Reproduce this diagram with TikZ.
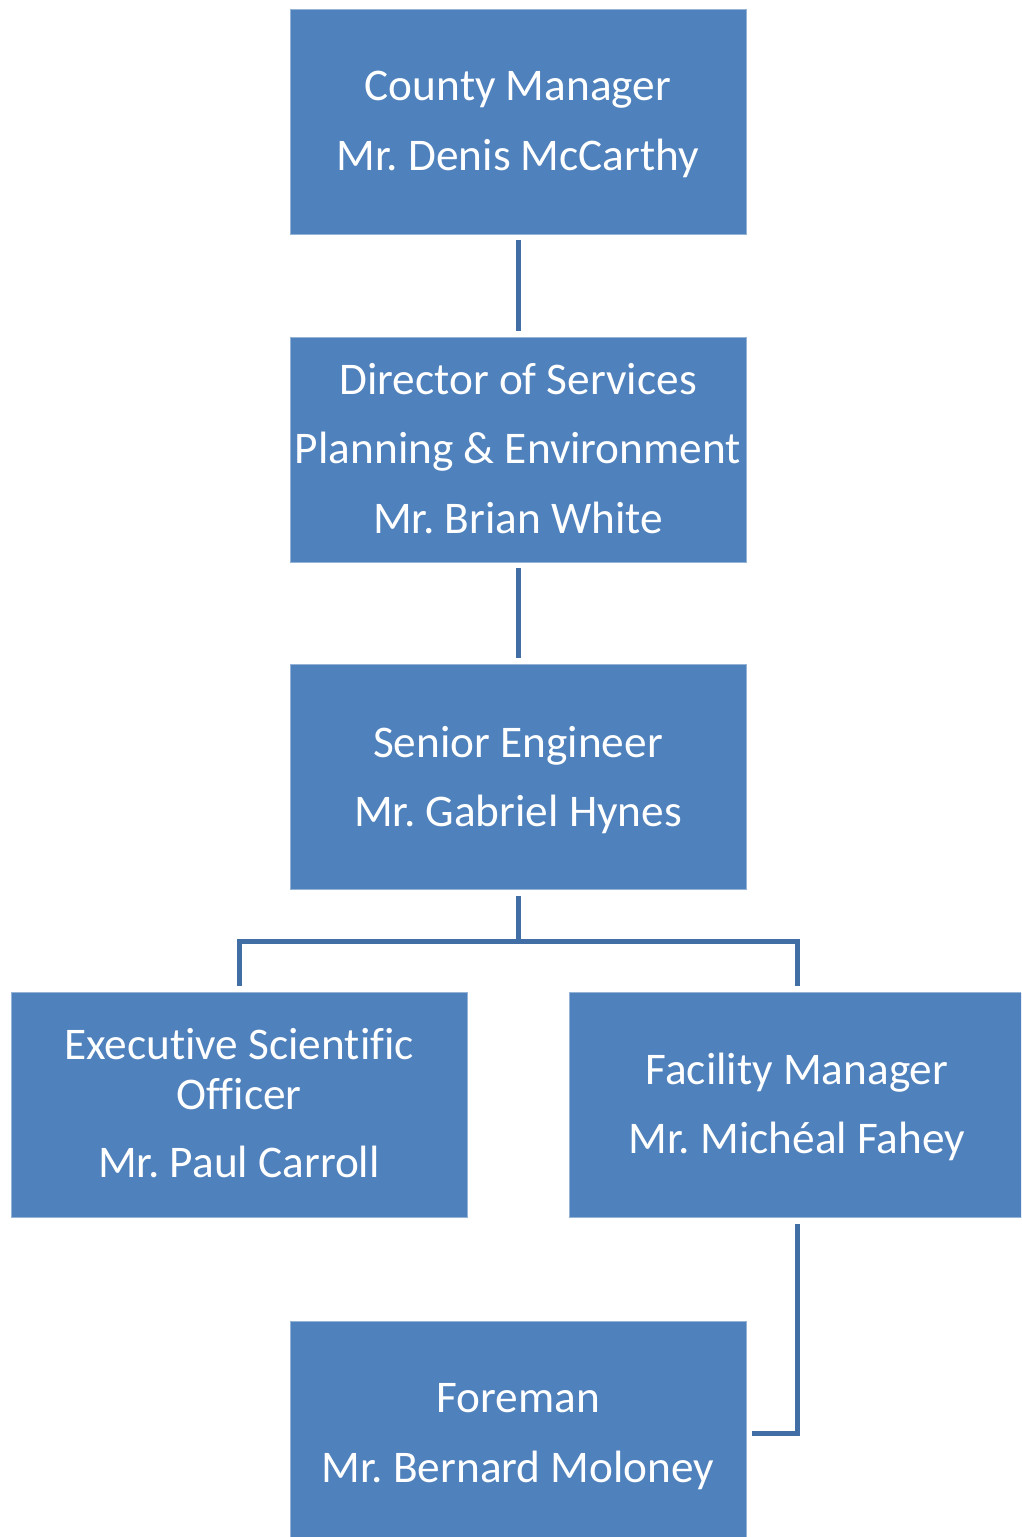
\documentclass[tikz,border=0pt]{standalone}
\usepackage{fontspec}
\setmainfont{Carlito}[Ligatures=NoCommon]
\frenchspacing
\definecolor{boxblue}{HTML}{4F81BD}
\definecolor{connblue}{RGB}{65,110,165}
\begin{document}
\begin{tikzpicture}[x=1pt,y=-1pt,
  orgbox/.style={rectangle, fill=boxblue, draw=boxblue!60!white, line width=0.8pt,
    minimum width=456pt, minimum height=225pt, inner sep=0pt},
  orgtext/.style={text=white, align=center, inner sep=0pt,
    font=\fontsize{45.3}{50}\selectfont},
  conn/.style={draw=connblue, line width=5pt, line join=miter}]
\useasboundingbox (0,0) rectangle (1021,1537);
\clip (0,0) rectangle (1021,1537);
\fill[white] (0,0) rectangle (1021,1537);
\node[orgbox] (A) at (518,121.5) {};
\node[orgbox] (B) at (518,449.5) {};
\node[orgbox] (C) at (518,777) {};
\node[orgbox] (D) at (239,1105) {};
\node[orgbox] (E) at (797,1105) {};
\node[orgbox] (F) at (518,1433.5) {};
\node[orgtext] (At) at ([yshift=-3pt]A.center) {County Manager\\[19.5pt]Mr. Denis McCarthy};
\node[orgtext] (Bt) at ([yshift=1pt]B.center) {Director of Services\\[19.5pt]Planning \& Environment\\[19.5pt]Mr. Brian White};
\node[orgtext] (Ct) at ([yshift=-3pt]C.center) {Senior Engineer\\[19.5pt]Mr. Gabriel Hynes};
\node[orgtext] (Dt) at ([yshift=2pt]D.center) {Executive Scientific\\Officer\\[18pt]Mr. Paul Carroll};
\node[orgtext] (Et) at ([yshift=-2pt]E.center) {Facility Manager\\[19.5pt]Mr. Mich\'eal Fahey};
\node[orgtext] (Ft) at ([yshift=-3pt]F.center) {Foreman\\[19.5pt]Mr. Bernard Moloney};
\coordinate (bus) at (518,941);
\draw[conn] ([yshift=-6pt]A.south) -- ([yshift=6pt]B.north);
\draw[conn] ([yshift=-6pt]B.south) -- ([yshift=6pt]C.north);
\draw[conn] ([yshift=-6pt]C.south) -- (C.south |- bus);
\draw[conn] ([yshift=6pt]D.north) -- (D.north |- bus) -- (E.north |- bus) -- ([yshift=6pt]E.north);
\draw[conn] ([yshift=-6pt]E.south) -- (E.south |- F.east) -- ([xshift=6pt]F.east);
\end{tikzpicture}
\end{document}
